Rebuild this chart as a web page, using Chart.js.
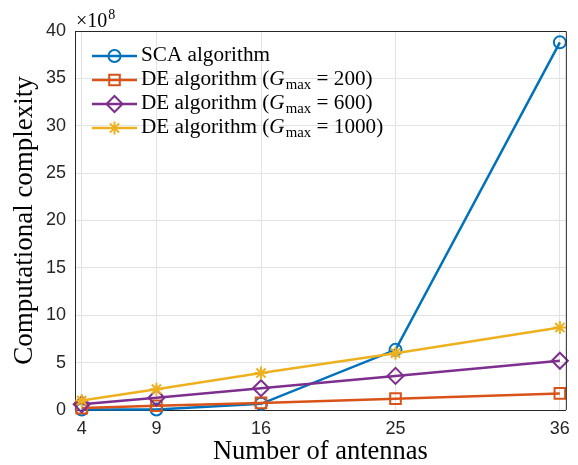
<!DOCTYPE html>
<html>
<head>
<meta charset="utf-8">
<script src="https://cdn.jsdelivr.net/npm/chart.js@4.4.0/dist/chart.umd.min.js"></script>
<style>
  html, body { margin: 0; padding: 0; background: #fff; }
</style>
</head>
<body>
<canvas id="complexityChart" width="578" height="465"></canvas>
<script>
// number of antennas on the x axis
const antennas = [4, 9, 16, 25, 36];
// complexity values, in units of 1e8
const scaValues = [0.05, 0.05, 0.65, 6.35, 38.8];
const de200Values = [0.2, 0.45, 0.75, 1.2, 1.75];
const de600Values = [0.6, 1.3, 2.3, 3.6, 5.2];
const de1000Values = [1.0, 2.2, 3.9, 6.0, 8.7];
const yTicks = [0, 5, 10, 15, 20, 25, 30, 35, 40];
const seriesLabels = [
    'SCA algorithm',
    'DE algorithm (G_max = 200)',
    'DE algorithm (G_max = 600)',
    'DE algorithm (G_max = 1000)'
];

const SERIF = '"Liberation Serif", "Times New Roman", serif';
const SANS = '"Liberation Sans", Arial, sans-serif';
const AXIS_COLOR = '#262626';

function series(idx, values, color, style, radius) {
    return {
        label: seriesLabels[idx],
        data: antennas.map((a, i) => ({ x: a, y: values[i] })),
        borderColor: color,
        backgroundColor: color,
        borderWidth: 2.5,
        pointStyle: style,
        pointRadius: radius,
        pointBorderWidth: 2,
        pointBackgroundColor: 'rgba(0,0,0,0)',
        pointBorderColor: color,
        clip: false,
        order: 4 - idx
    };
}

const datasets = [
    series(0, scaValues, '#0072BD', 'circle', 6),
    series(1, de200Values, '#D95319', 'rect', 7.5),
    series(2, de600Values, '#7E2F8E', 'rectRot', 8),
    series(3, de1000Values, '#EDB120', 'star', 6.5)
];

// label text, with "G_max" drawn as italic G and a lowered "max"
function drawLabel(ctx, text, x, y) {
    const parts = text.split('G_max');
    ctx.save();
    ctx.translate(x, y);
    ctx.scale(1.06, 1);
    ctx.textBaseline = 'middle';
    ctx.textAlign = 'left';
    ctx.fillStyle = '#000';
    let cx = 0;
    ctx.font = '20px ' + SERIF;
    ctx.fillText(parts[0], cx, 0);
    cx += ctx.measureText(parts[0]).width;
    if (parts.length > 1) {
        ctx.font = 'italic 20px ' + SERIF;
        ctx.fillText('G', cx, 0);
        cx += ctx.measureText('G').width + 1;
        ctx.font = '14px ' + SERIF;
        ctx.fillText('max', cx, 5);
        cx += ctx.measureText('max').width;
        ctx.font = '20px ' + SERIF;
        ctx.fillText(parts[1], cx, 0);
    }
    ctx.restore();
}

const extras = {
    id: 'extras',
    afterDraw(chart) {
        const ctx = chart.ctx;
        const a = chart.chartArea;
        ctx.save();
        // top and right box lines
        ctx.strokeStyle = AXIS_COLOR;
        ctx.lineWidth = 1;
        ctx.beginPath();
        ctx.moveTo(a.left, a.top + 0.5);
        ctx.lineTo(a.right + 0.5, a.top + 0.5);
        ctx.lineTo(a.right + 0.5, a.bottom);
        ctx.stroke();

        // exponent label
        ctx.fillStyle = '#000';
        ctx.textBaseline = 'alphabetic';
        ctx.font = '20px ' + SERIF;
        ctx.fillText('\u00d710', a.left + 1, a.top - 4);
        const w = ctx.measureText('\u00d710').width;
        ctx.font = '14px ' + SERIF;
        ctx.fillText('8', a.left + 2 + w, a.top - 12);

        // legend
        const rowY = [56, 80, 104, 128];
        chart.data.datasets.forEach((ds, i) => {
            const y = rowY[i];
            ctx.strokeStyle = ds.borderColor;
            ctx.lineWidth = 2.5;
            ctx.beginPath();
            ctx.moveTo(92, y);
            ctx.lineTo(137, y);
            ctx.stroke();
            ctx.lineWidth = 2;
            ctx.fillStyle = 'rgba(0,0,0,0)';
            Chart.helpers.drawPoint(ctx, {
                pointStyle: ds.pointStyle,
                radius: ds.pointRadius,
                borderWidth: 2,
                rotation: 0
            }, 114.5, y);
            drawLabel(ctx, ds.label, 141, y);
        });
        ctx.restore();
    }
};

new Chart(document.getElementById('complexityChart'), {
    type: 'line',
    data: { datasets: datasets },
    plugins: [extras],
    options: {
        responsive: false,
        animation: false,
        layout: { padding: { top: 31, right: 9, left: 0, bottom: 0 } },
        plugins: {
            legend: { display: false },
            tooltip: { enabled: false }
        },
        scales: {
            x: {
                type: 'linear',
                min: 3.55,
                max: 36.4,
                afterBuildTicks: s => { s.ticks = antennas.map(v => ({ value: v })); },
                afterFit: s => { s.height = 55; },
                grid: { color: '#e3e3e3', drawTicks: false },
                border: { color: AXIS_COLOR, width: 1 },
                ticks: {
                    color: AXIS_COLOR,
                    padding: 8,
                    maxRotation: 0,
                    font: { family: SANS, size: 18 }
                },
                title: {
                    display: true,
                    text: 'Number of antennas',
                    color: '#000',
                    font: { family: SERIF, size: 26.5, lineHeight: 1 },
                    padding: { top: 0, bottom: 0 }
                }
            },
            y: {
                min: 0,
                max: 40,
                afterBuildTicks: s => { s.ticks = yTicks.map(v => ({ value: v })); },
                afterFit: s => { s.width = 75; },
                grid: { color: '#e3e3e3', drawTicks: false },
                border: { color: AXIS_COLOR, width: 1 },
                ticks: {
                    color: AXIS_COLOR,
                    padding: 9,
                    font: { family: SANS, size: 18 }
                },
                title: {
                    display: true,
                    text: 'Computational complexity',
                    color: '#000',
                    font: { family: SERIF, size: 27, lineHeight: 1 },
                    padding: { top: 11, bottom: 0 }
                }
            }
        }
    }
});
</script>
</body>
</html>
